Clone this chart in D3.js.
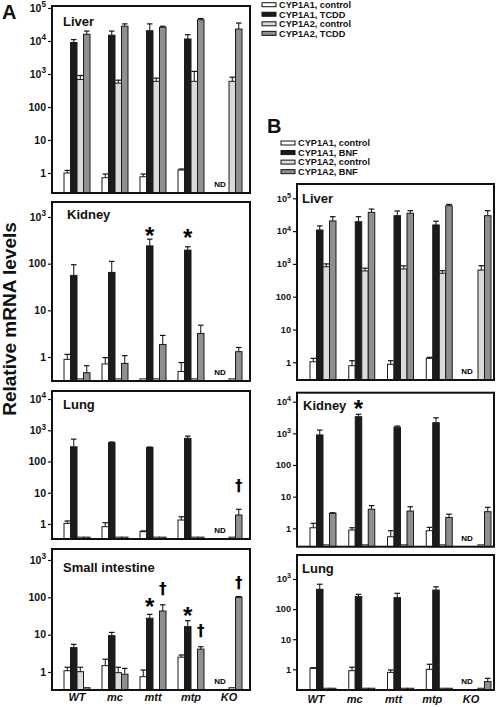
<!DOCTYPE html>
<html><head><meta charset="utf-8">
<script src="https://cdn.jsdelivr.net/npm/d3@7"></script>
<style>
body{margin:0;background:#fff}
svg{display:block}
text{font-family:"Liberation Sans",Arial,Helvetica,sans-serif;font-weight:bold;fill:#111}
</style>
</head><body>
<svg id="c" width="496" height="707"></svg>
<script>
// ---------- data ----------
const groups = ["WT", "mc", "mtt", "mtp", "KO"];
const seriesA = ["CYP1A1, control", "CYP1A1, TCDD", "CYP1A2, control", "CYP1A2, TCDD"];
const seriesB = ["CYP1A1, control", "CYP1A1, BNF", "CYP1A2, control", "CYP1A2, BNF"];
const seriesFill = ["#ffffff", "#1b1b1b", "#dadada", "#8f8f8f"];

// values per genotype: [CYP1A1 ctrl, CYP1A1 induced, CYP1A2 ctrl, CYP1A2 induced]; null = not shown (ND)
const liverA    = [[1.0, 9000, 680, 16000], [0.72, 15000, 530, 28000], [0.77, 20500, 600, 26000], [1.23, 11500, 600, 44000], [null, null, 600, 23000]];
const liverAErr = [[1.2, 11000, 900, 20000], [0.93, 20000, 650, 33000], [0.93, 33000, 750, 28000], [1.32, 15500, 1200, 48000], [null, null, 800, 35000]];
const kidneyA    = [[0.89, 56, 0.34, 0.46], [0.71, 65, 0.34, 0.73], [0.34, 240, 0.34, 1.86], [0.49, 195, 0.34, 3.2], [null, null, 0.34, 1.3]];
const kidneyAErr = [[1.14, 95, null, 0.65], [0.97, 112, null, 1.07], [null, 335, null, 2.9], [0.76, 230, null, 4.8], [null, null, null, 1.6]];
const lungA    = [[1.05, 295, 0.38, 0.38], [0.82, 400, 0.38, 0.38], [0.57, 280, 0.38, 0.38], [1.34, 550, 0.38, 0.38], [null, null, 0.38, 1.94]];
const lungAErr = [[1.25, 520, null, null], [1.1, 420, null, null], [0.6, 290, null, null], [1.7, 650, null, null], [null, null, null, 2.95]];
const intestineA    = [[1.08, 4.5, 1.02, 0.38], [1.48, 9.4, 0.96, 0.87], [0.75, 27.5, null, 43], [2.5, 16.4, null, 4.1], [null, null, 0.38, 100]];
const intestineAErr = [[1.34, 5.5, 1.34, null], [2.2, 11.5, 1.34, 1.25], [1.13, 35, null, 63], [2.85, 23.7, null, 4.75], [null, null, null, 105]];

const liverB    = [[1.04, 10800, 820, 20400], [0.79, 19300, 610, 37300], [0.87, 29500, 700, 35000], [1.32, 15400, 520, 59000], [null, null, 650, 29500]];
const liverBErr = [[1.32, 14400, 1000, 27500], [1.12, 27500, 740, 47000], [1.12, 41000, 870, 42000], [1.42, 20000, 620, 65000], [null, null, 880, 42000]];
const kidneyB    = [[1.04, 890, 0.3, 2.98], [0.88, 3360, 0.3, 4.0], [0.54, 1560, 0.3, 3.5], [0.84, 2170, 0.3, 2.2], [null, null, 0.3, 3.35]];
const kidneyBErr = [[1.44, 1270, null, 3.1], [1.04, 4000, null, 5.2], [0.84, 1700, null, 4.8], [1.07, 3100, null, 2.8], [null, null, null, 4.6]];
const lungB    = [[1.08, 455, 0.235, 0.235], [0.9, 260, 0.235, 0.235], [0.79, 240, 0.235, 0.235], [1.0, 430, 0.235, 0.235], [null, null, 0.235, 0.39]];
const lungBErr = [[1.13, 670, null, null], [1.17, 310, null, null], [0.95, 335, null, null], [1.47, 550, null, null], [null, null, null, 0.5]];

// tick values per panel
const ticksLiverA = [1, 10, 100, 1e3, 1e4, 1e5];
const ticksKidneyA = [1, 10, 100, 1e3];
const ticksLungA = [1, 10, 100, 1e3, 1e4];
const ticksIntestineA = [1, 10, 100, 1e3];
const ticksLiverB = [1, 10, 100, 1e3, 1e4, 1e5];
const ticksKidneyB = [1, 10, 100, 1e3, 1e4];
const ticksLungB = [1, 10, 100, 1e3];

// significance marks: [panel, genotype, series, level, symbol]
const marks = [
  ["kidneyA", "mtt", 1, 480, "*"], ["kidneyA", "mtp", 1, 440, "*"],
  ["lungA", "KO", 3, 18, "\u2020"],
  ["intestineA", "mtt", 1, 71, "*"], ["intestineA", "mtt", 3, 180, "\u2020"],
  ["intestineA", "mtp", 1, 40, "*"], ["intestineA", "mtp", 3, 13.4, "\u2020"],
  ["intestineA", "KO", 3, 260, "\u2020"],
  ["kidneyB", "mc", 1, 7900, "*"]
];
const ndGroup = "KO";

// ---------- layout ----------
const cols = {
  A: {x0: 52, x1: 250, c0: 77, c1: 229, tickFs: 10.5, labelDx: 0, xlabY: 701, ndDx: -9},
  B: {x0: 297, x1: 494, c0: 323, c1: 478, tickFs: 9.2, labelDx: -7, xlabY: 703, ndDx: -11}
};
const panels = [
  {id: "liverA", col: "A", name: "Liver", v: liverA, e: liverAErr, ticks: ticksLiverA, yOne: 173, yTop: 8, top: 6, bottom: 193, lx: 63, ly: 26, xl: false},
  {id: "kidneyA", col: "A", name: "Kidney", v: kidneyA, e: kidneyAErr, ticks: ticksKidneyA, yOne: 357, yTop: 217, top: 202, bottom: 381, lx: 67, ly: 219, xl: false},
  {id: "lungA", col: "A", name: "Lung", v: lungA, e: lungAErr, ticks: ticksLungA, yOne: 524, yTop: 399, top: 391, bottom: 539, lx: 63, ly: 409, xl: false},
  {id: "intestineA", col: "A", name: "Small intestine", v: intestineA, e: intestineAErr, ticks: ticksIntestineA, yOne: 672, yTop: 560, top: 549, bottom: 690, lx: 63, ly: 572, xl: true},
  {id: "liverB", col: "B", name: "Liver", v: liverB, e: liverBErr, ticks: ticksLiverB, yOne: 362.3, yTop: 198.3, top: 184, bottom: 380, lx: 302, ly: 203, xl: false},
  {id: "kidneyB", col: "B", name: "Kidney", v: kidneyB, e: kidneyBErr, ticks: ticksKidneyB, yOne: 528.3, yTop: 401.7, top: 392.7, bottom: 546.7, lx: 303, ly: 410, xl: false},
  {id: "lungB", col: "B", name: "Lung", v: lungB, e: lungBErr, ticks: ticksLungB, yOne: 669.3, yTop: 579, top: 555, bottom: 690, lx: 302, ly: 573, xl: true}
];

const svg = d3.select("#c");

function tickLabel(sel, v, fs) {
  const t = sel.append("text").attr("text-anchor", "end").style("font-size", fs + "px");
  const p = Math.round(Math.log10(v));
  if (p <= 2) { t.text(String(v)); }
  else {
    t.append("tspan").text("10");
    t.append("tspan").attr("dy", -fs * 0.42).style("font-size", (fs * 0.78) + "px").text(String(p));
  }
  return t;
}

panels.forEach(p => {
  const C = cols[p.col];
  const x = d3.scalePoint().domain(groups).range([C.c0, C.c1]);
  const xs = d3.scaleBand().domain(d3.range(4)).range([-13, 13]);
  const bw = xs.bandwidth();
  const y = d3.scaleLog().domain([1, p.ticks[p.ticks.length - 1]]).range([p.yOne, p.yTop]);
  const g = svg.append("g");

  // bars
  p.v.forEach((row, gi) => row.forEach((val, si) => {
    if (val == null) return;
    const bx = x(groups[gi]) + xs(si);
    const top = y(val);
    g.append("rect").attr("x", bx).attr("y", top).attr("width", bw).attr("height", p.bottom - top)
      .attr("fill", seriesFill[si]).attr("stroke", "#1a1a1a").attr("stroke-width", 1);
    const ev = p.e[gi][si];
    if (ev != null) {
      const cx = bx + bw / 2, ey = y(ev);
      g.append("line").attr("x1", cx).attr("x2", cx).attr("y1", top).attr("y2", ey).attr("stroke", "#111").attr("stroke-width", 1);
      g.append("line").attr("x1", cx - bw / 2 + 0.5).attr("x2", cx + bw / 2 - 0.5).attr("y1", ey).attr("y2", ey).attr("stroke", "#111").attr("stroke-width", 1.2);
    }
  }));

  // ND label
  g.append("text").attr("x", x(ndGroup) + C.ndDx).attr("y", p.bottom - 6).attr("text-anchor", "middle")
    .style("font-size", "8px").style("fill", "#000").text("ND");

  // significance marks
  marks.filter(m => m[0] === p.id).forEach(m => {
    const cx = x(m[1]) + xs(m[2]) + bw / 2;
    const cy = y(m[3]);
    if (m[4] === "*") {
      g.append("text").attr("x", cx).attr("y", cy + 12).attr("text-anchor", "middle").style("font-size", "24px").style("fill", "#000").text("*");
    } else {
      g.append("text").attr("x", cx).attr("y", cy + 6).attr("text-anchor", "middle")
        .style("font-family", "'DejaVu Sans', sans-serif").style("font-size", "15px").style("fill", "#000").text(m[4]);
    }
  });

  // axis ticks
  const ax = g.append("g").attr("transform", `translate(${C.x0},0)`)
    .call(d3.axisLeft(y).tickValues(p.ticks).tickSize(4).tickFormat(() => ""));
  ax.select(".domain").remove();
  ax.selectAll(".tick line").attr("stroke", "#111").attr("stroke-width", 1.2);
  p.ticks.forEach(t => {
    tickLabel(g, t, C.tickFs).attr("x", C.x0 - 6).attr("y", y(t) + C.tickFs * 0.36);
  });

  // frame
  g.append("rect").attr("x", C.x0).attr("y", p.top).attr("width", C.x1 - C.x0).attr("height", p.bottom - p.top)
    .attr("fill", "none").attr("stroke", "#111").attr("stroke-width", 2);

  // panel name
  g.append("text").attr("x", p.lx).attr("y", p.ly).style("font-size", "13px").text(p.name);

  // x labels
  if (p.xl) {
    groups.forEach(k => {
      g.append("text").attr("x", x(k) + C.labelDx).attr("y", C.xlabY).attr("text-anchor", "middle")
        .style("font-size", "11px").style("font-style", "italic").text(k);
    });
  }
});

// figure letters
svg.append("text").attr("x", 2).attr("y", 19).style("font-size", "20px").text("A");
svg.append("text").attr("x", 267).attr("y", 133).style("font-size", "20px").text("B");

// y title
svg.append("text").attr("transform", "translate(16,319) rotate(-90)").attr("text-anchor", "middle")
  .style("font-size", "19px").text("Relative mRNA levels");

// legends
function legend(names, lx, ly0, dy) {
  names.forEach((n, i) => {
    const cy = ly0 + i * dy;
    svg.append("rect").attr("x", lx).attr("y", cy - 2).attr("width", 14).attr("height", 4)
      .attr("fill", seriesFill[i]).attr("stroke", "#111").attr("stroke-width", 1);
    svg.append("text").attr("x", lx + 17).attr("y", cy + 3.3).style("font-size", "9.2px").text(n);
  });
}
legend(seriesA, 262, 4.7, 9.55);
legend(seriesB, 281, 143, 9.55);
</script>
</body></html>
